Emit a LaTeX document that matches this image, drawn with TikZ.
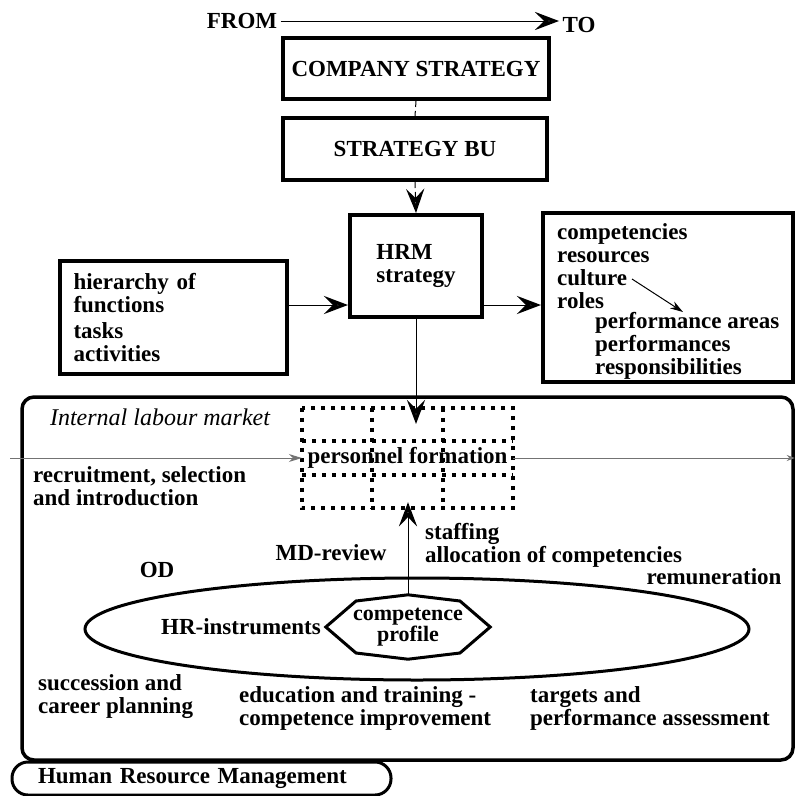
\documentclass[tikz,border=0pt]{standalone}
\usepackage{fontspec}
\setmainfont{Liberation Serif}
\usetikzlibrary{positioning, arrows.meta, calc, shapes.geometric}

\begin{document}
\begin{tikzpicture}[
    x=1pt, y=-1pt,
    font=\fontsize{23}{23}\selectfont\bfseries,
    sbox/.style={draw, rectangle, line width=4pt, inner sep=0pt},
    txt/.style={align=left, inner sep=0pt},
    oarrow/.style={-{Stealth[open, length=24pt, width=18pt, inset=9pt, line width=3.2pt]}, line width=1pt},
    darrow/.style={oarrow, dash pattern=on 6pt off 4pt},
    dline/.style={line width=1pt, dash pattern=on 6pt off 4pt},
    farrow/.style={-{Stealth[length=13pt, width=8pt]}, line width=1pt},
    thinline/.style={-{Stealth[length=8pt, width=6pt]}, line width=1pt, black!55},
    dotline/.style={line width=4pt, dash pattern=on 4pt off 6pt},
    ringline/.style={draw, line width=3pt}
]
\useasboundingbox (0,0) rectangle (795,796);

% 1. From -> To
\node (from) at (242,21) {FROM};
\node (to) at (579,25) {TO};
\draw[oarrow] (from.east) -- (from.east -| to.west);

% 2. Strategy chain
\node[sbox, minimum width=266pt, minimum height=61pt] (comp) at (416,68.5) {COMPANY STRATEGY};
\node[sbox, minimum width=264pt, minimum height=62pt] (bu) at (415,149) {STRATEGY BU};
\node[sbox, minimum width=132pt, minimum height=102pt, align=left] (hrm) at (416,266) {HRM\\strategy};
\draw[dline] (comp.south) -- (bu.north);
\draw[darrow] (bu.south) -- (hrm.north);

% 3. Side boxes
\node[sbox, minimum width=227pt, minimum height=113pt, text width=200pt, align=left] (hier) at (173.5,317.5) {hierarchy of\\functions\\[3pt]tasks\\activities};
\node[sbox, minimum width=250pt, minimum height=169pt] (rbox) at (668,297.5) {};
\node[txt, anchor=west] (rlist) at (557,266.5) {competencies\\resources\\culture\\roles};
\node[txt, anchor=west] (perf) at (595,345.5) {performance areas\\performances\\responsibilities};
\coordinate (cult) at (632,279);
\coordinate (perftip) at (683,312);
\draw[farrow] (cult) -- (perftip);

\coordinate (sidey) at (0,305);
\draw[oarrow] (hier.east |- sidey) -- (hrm.west |- sidey);
\draw[oarrow] (hrm.east |- sidey) -- (rbox.west |- sidey);

% 4. Internal labour market
\node[draw, rounded corners=12pt, line width=3.5pt, minimum width=771pt, minimum height=363pt] (ilm) at (407.5,578.5) {};
\node[txt, font=\fontsize{24}{24}\selectfont\itshape] (ilmlabel) at (160,417) {Internal labour market};

% personnel formation grid
\node[inner sep=0pt, minimum width=211pt, minimum height=100pt] (pf) at (407.5,458) {personnel formation};
\draw[dotline] (pf.north west) rectangle (pf.south east);
\foreach \f in {1,2} {
    \draw[dotline] ($(pf.north west)!\f/3!(pf.north east)$) -- ($(pf.south west)!\f/3!(pf.south east)$);
    \draw[dotline] ($(pf.north west)!\f/3!(pf.south west)$) -- ($(pf.north east)!\f/3!(pf.south east)$);
}
\draw[oarrow] (hrm.south) -- ++(0,105);

\coordinate (lstart) at (10,458);
\draw[farrow, black!55] (lstart) -- (pf.west);
\draw[thinline] (pf.east) -- (pf.east -| ilm.east);

% 5. HR-instruments ring
\node[ellipse, ringline, minimum width=664pt, minimum height=102pt, inner sep=0pt] (hri) at (417,629) {};
\node[align=center, inner sep=0pt, minimum width=164pt, minimum height=64pt, font=\fontsize{22}{20}\selectfont\bfseries] (cp) at (408,627) {competence\\profile};
\draw[line width=3pt] (cp.west) -- ([shift={(-52pt,26pt)}]cp.center) -- (cp.north) -- ([shift={(52pt,26pt)}]cp.center)
    -- (cp.east) -- ([shift={(52pt,-26pt)}]cp.center) -- (cp.south) -- ([shift={(-52pt,-26pt)}]cp.center) -- cycle;
\draw[oarrow] (cp.north) -- ([yshift=6pt]cp.north |- pf.south);

% 6. Labels round the ring
\node[txt] (hrinst) at (241,627) {HR-instruments};
\node[txt] (mdrev) at (331,553) {MD-review};
\node[txt] (od) at (157,570) {OD};
\node[txt, anchor=west] (staff) at (425,545) {staffing\\allocation of competencies};
\node[txt] (remun) at (714,577) {remuneration};
\node[txt, anchor=west] (recr) at (33,486) {recruitment, selection\\and introduction};
\node[txt, anchor=west] (succ) at (38,697) {succession and\\career planning};
\node[txt, anchor=west] (edu) at (239,708.5) {education and training -\\competence improvement};
\node[txt, anchor=west] (targ) at (530,708.5) {targets and\\performance assessment};

% 7. HRM label
\node[draw, rounded corners=16pt, line width=3pt, minimum width=379pt, minimum height=33pt, text width=327pt, align=left, inner sep=0pt] (hrmlabel) at (201.5,778.5) {Human Resource Management};

\end{tikzpicture}
\end{document}
